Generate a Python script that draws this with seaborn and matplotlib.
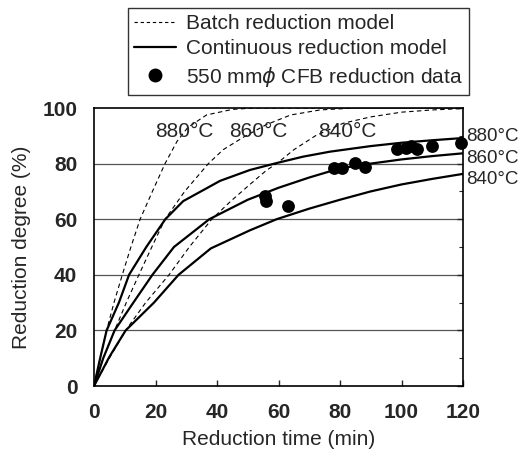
import matplotlib
matplotlib.use("Agg")
import matplotlib.pyplot as plt
import seaborn as sns
import pandas as pd
from matplotlib.lines import Line2D

# ---- data ----
batch880_t = [0, 2, 4.1, 6.5, 9.2, 12, 15, 19, 23.1, 27, 30.5, 36.6, 45, 52, 60, 120]
batch880_R = [0, 10, 20, 30, 40, 50, 60, 70, 80, 88, 93, 97.5, 99.5, 100, 100, 100]

batch860_t = [0, 3, 6.7, 10.5, 14.6, 18.8, 23.1, 29.5, 37.2, 42, 48.6, 56, 64, 73.5, 85, 120]
batch860_R = [0, 10, 20, 30, 40, 50, 60, 70, 80, 85, 89.5, 94, 97.5, 99.3, 100, 100]

batch840_t = [0, 5, 10.3, 16.8, 24.4, 31, 38.3, 44.5, 50.7, 56, 60, 65, 72, 81, 90, 100, 110, 120]
batch840_R = [0, 10, 20, 30, 40, 50, 60, 66.5, 72.5, 77.5, 80.5, 85, 90, 94.5, 96.8, 98.5, 99.3, 99.8]

cont880_t = [0, 2, 4.1, 8.1, 11.4, 17, 23.2, 29, 35.6, 41, 50.7, 59.4, 68, 76.8, 90, 100, 110, 120]
cont880_R = [0, 10, 20, 30, 40, 50, 60, 66.5, 70.5, 73.8, 77.7, 80.2, 82.5, 84.3, 86.3, 87.5, 88.4, 89.2]

cont860_t = [0, 3, 6.7, 12.8, 19, 26, 37.5, 50, 60, 70, 80, 90, 100, 110, 120]
cont860_R = [0, 10, 20, 30, 40, 50, 60, 67, 71.3, 75, 78.3, 80, 81.5, 82.7, 83.7]

cont840_t = [0, 5, 10.3, 19.5, 27.5, 38, 50.7, 59.4, 70, 80, 90, 100, 110, 120]
cont840_R = [0, 10.5, 20, 30, 40, 49.5, 56, 60, 63.8, 67, 70, 72.5, 74.5, 76.3]

cfb_t = [55.5, 56.0, 63.0, 78.0, 80.5, 85.0, 88.0, 98.5, 101.5, 103.0, 105.0, 110.0, 119.5]
cfb_R = [68.5, 66.5, 64.7, 78.3, 78.3, 80.3, 78.8, 85.2, 85.5, 86.3, 85.3, 86.3, 87.5]

temps = ["880°C", "860°C", "840°C"]
top_label_t = [29.5, 53.3, 82.3]
top_label_R = [91.5, 91.5, 91.5]
right_label_R = [89.6, 82.0, 74.4]

xticks = [0, 20, 40, 60, 80, 100, 120]
yticks = [0, 20, 40, 60, 80, 100]

legend_labels = ["Batch reduction model", "Continuous reduction model",
                 r"550 mm$\phi$ CFB reduction data"]

# ---- plotting ----
sns.set_style("white")
plt.rcParams["font.family"] = ["Liberation Sans", "DejaVu Sans"]
plt.rcParams["mathtext.fontset"] = "dejavusans"

fig = plt.figure(figsize=(5.32, 4.61), dpi=100)
ax = fig.add_axes([94 / 532, 1 - 386 / 461, 369 / 532, 278 / 461])

for y in [20, 40, 60, 80]:
    ax.axhline(y, color="#555555", lw=0.9, zorder=0)

batch = [(batch880_t, batch880_R), (batch860_t, batch860_R), (batch840_t, batch840_R)]
cont = [(cont880_t, cont880_R), (cont860_t, cont860_R), (cont840_t, cont840_R)]

for t, r in batch:
    sns.lineplot(x=t, y=r, ax=ax, color="black", lw=0.8, sort=False,
                 linestyle=(0, (4, 3)), estimator=None)
for t, r in cont:
    sns.lineplot(x=t, y=r, ax=ax, color="black", lw=1.6, sort=False, estimator=None)

sns.scatterplot(x=cfb_t, y=cfb_R, ax=ax, color="black", s=85, edgecolor="black",
                linewidth=0, zorder=5, clip_on=False)

for lab, tt, rr in zip(temps, top_label_t, top_label_R):
    ax.text(tt, rr, lab, ha="center", va="center", fontsize=15, zorder=4)
for lab, rr in zip(temps, right_label_R):
    ax.text(121.0, rr, lab, ha="left", va="center", fontsize=13.5, clip_on=False)

ax.set_xlim(0, 120)
ax.set_ylim(0, 100)
ax.set_xticks(xticks)
ax.set_yticks(yticks)
ax.set_yticks([10, 30, 50, 70, 90], minor=True)
ax.tick_params(axis="both", which="major", direction="in", length=4, width=1,
               labelsize=15, pad=12, right=True)
ax.tick_params(axis="y", which="minor", direction="in", length=3, width=0.8, right=True)
ax.tick_params(axis="x", which="major", bottom=True, top=False)
for lab in ax.get_xticklabels() + ax.get_yticklabels():
    lab.set_fontweight("bold")
for sp in ax.spines.values():
    sp.set_visible(True)
    sp.set_color("black")
    sp.set_linewidth(1.2)

ax.set_xlabel("Reduction time (min)", fontsize=15, labelpad=6)
ax.set_ylabel("Reduction degree (%)", fontsize=15, labelpad=8)

handles = [
    Line2D([], [], color="black", lw=0.8, linestyle=(0, (3, 2.5))),
    Line2D([], [], color="black", lw=1.6),
    Line2D([], [], color="black", marker="o", linestyle="none", markersize=9),
]
leg = fig.legend(handles, legend_labels, loc="upper left",
                 bbox_to_anchor=(128 / 532, 1 - 8 / 461), fontsize=15,
                 frameon=True, fancybox=False, edgecolor="black",
                 handlelength=2.0, handletextpad=0.5, labelspacing=0.3,
                 borderpad=0.3, borderaxespad=0)
leg.get_frame().set_linewidth(1.0)

fig.savefig("out.png", dpi=100)
